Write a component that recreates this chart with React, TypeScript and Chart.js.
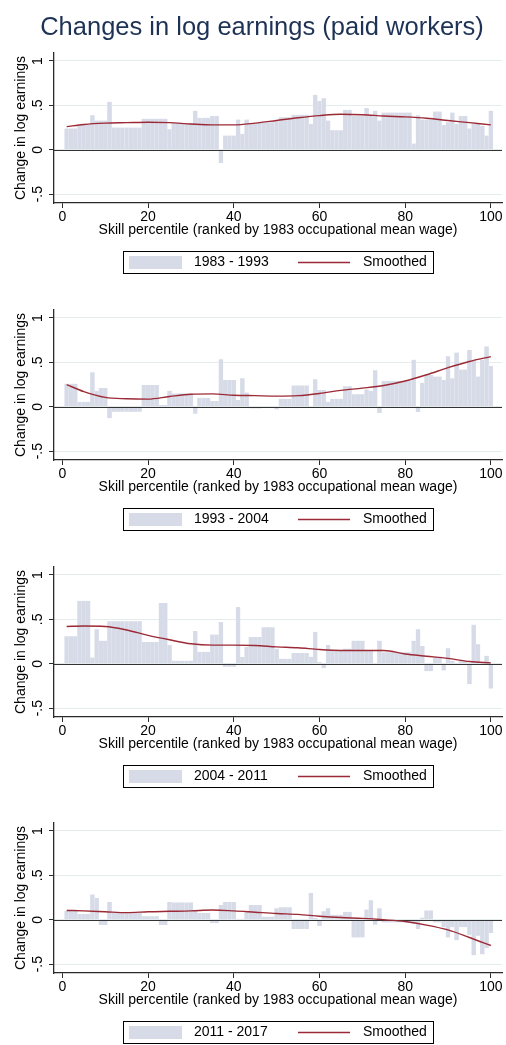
import React, { useEffect, useRef } from 'react';
import { Chart, registerables } from 'chart.js';

Chart.register(...registerables);

const FONT = '"Liberation Sans", Arimo, Arial, Helvetica, sans-serif';
Chart.defaults.font.family = FONT;

const MAIN_TITLE = 'Changes in log earnings (paid workers)';
const Y_TITLE = 'Change in log earnings';
const X_TITLE = 'Skill percentile (ranked by 1983 occupational mean wage)';
const SMOOTH_LABEL = 'Smoothed';

const percentiles = Array.from({ length: 100 }, (_, i) => i + 1);
const xTickValues = [0, 20, 40, 60, 80, 100];
const yTickValues = [-0.5, 0, 0.5, 1];
const yTickLabels = ['-.5', '0', '.5', '1'];
const periodLabels = ['1983 - 1993', '1993 - 2004', '2004 - 2011', '2011 - 2017'];

const change1983_1993 = [
  0.24, 0.24, 0.24, 0.28, 0.28, 0.28, 0.39, 0.33, 0.33, 0.33,
  0.54, 0.25, 0.25, 0.25, 0.25, 0.25, 0.25, 0.25, 0.35, 0.35,
  0.35, 0.35, 0.35, 0.35, 0.23, 0.30, 0.30, 0.30, 0.30, 0.30,
  0.44, 0.36, 0.36, 0.36, 0.38, 0.38, -0.15, 0.16, 0.16, 0.16,
  0.34, 0.18, 0.34, 0.30, 0.30, 0.30, 0.31, 0.31, 0.31, 0.32,
  0.365, 0.365, 0.365, 0.395, 0.395, 0.395, 0.395, 0.29, 0.62, 0.55,
  0.58, 0.33, 0.22, 0.22, 0.22, 0.45, 0.45, 0.38, 0.38, 0.38,
  0.47, 0.38, 0.44, 0.33, 0.42, 0.42, 0.42, 0.42, 0.42, 0.42,
  0.42, 0.07, 0.39, 0.34, 0.34, 0.34, 0.43, 0.43, 0.28, 0.31,
  0.42, 0.29, 0.38, 0.38, 0.24, 0.29, 0.29, 0.27, 0.16, 0.44,
];

const change1993_2004 = [
  0.26, 0.26, 0.26, 0.055, 0.055, 0.055, 0.39, 0.18, 0.21, 0.21,
  -0.13, -0.055, -0.055, -0.055, -0.055, -0.055, -0.055, -0.055, 0.245, 0.245,
  0.245, 0.245, 0.02, 0.02, 0.18, 0.15, 0.15, 0.15, 0.15, 0.15,
  -0.08, 0.10, 0.10, 0.10, 0.065, 0.065, 0.535, 0.30, 0.30, 0.30,
  0.075, 0.32, 0.16, -0.02, -0.02, -0.02, -0.01, -0.01, -0.01, -0.03,
  0.09, 0.09, 0.09, 0.24, 0.24, 0.24, 0.24, -0.01, 0.31, 0.19,
  0.19, 0.055, 0.09, 0.09, 0.09, 0.23, 0.23, 0.14, 0.14, 0.14,
  0.195, 0.18, 0.41, -0.07, 0.29, 0.29, 0.29, 0.29, 0.29, 0.29,
  0.29, 0.53, -0.06, 0.27, 0.36, 0.36, 0.34, 0.34, 0.30, 0.57,
  0.32, 0.61, 0.42, 0.42, 0.64, 0.53, 0.34, 0.53, 0.68, 0.46,
];

const change2004_2011 = [
  0.31, 0.31, 0.31, 0.71, 0.71, 0.71, 0.07, 0.39, 0.26, 0.26,
  0.48, 0.48, 0.48, 0.48, 0.48, 0.48, 0.48, 0.48, 0.245, 0.245,
  0.245, 0.245, 0.685, 0.685, 0.21, 0.035, 0.035, 0.035, 0.035, 0.035,
  0.37, 0.135, 0.135, 0.135, 0.33, 0.33, 0.47, -0.035, -0.035, -0.035,
  0.64, 0.075, 0.19, 0.30, 0.30, 0.30, 0.41, 0.41, 0.41, 0.17,
  0.055, 0.055, 0.055, 0.12, 0.12, 0.12, 0.12, 0.08, 0.36, 0.02,
  -0.05, 0.21, 0.155, 0.155, 0.155, 0.17, 0.17, 0.26, 0.26, 0.26,
  0.15, 0.15, -0.015, 0.26, 0.13, 0.13, 0.13, 0.13, 0.13, 0.13,
  0.13, 0.26, 0.39, 0.20, -0.085, -0.085, 0.08, 0.08, -0.075, 0.175,
  0.03, -0.015, 0.03, 0.03, -0.23, 0.44, 0.22, -0.015, 0.09, -0.28,
];

const change2011_2017 = [
  0.10, 0.10, 0.10, 0.065, 0.065, 0.065, 0.285, 0.245, -0.06, -0.06,
  0.20, 0.085, 0.085, 0.085, 0.085, 0.085, 0.085, 0.085, 0.04, 0.04,
  0.04, 0.04, -0.06, -0.06, 0.20, 0.195, 0.195, 0.195, 0.195, 0.195,
  0.11, 0.075, 0.075, 0.075, -0.04, -0.04, 0.165, 0.20, 0.20, 0.20,
  0.01, 0.01, 0.10, 0.165, 0.165, 0.165, 0.035, 0.035, 0.035, 0.13,
  0.14, 0.14, 0.14, -0.105, -0.105, -0.105, -0.105, 0.30, 0.02, -0.07,
  0.095, 0.13, 0.055, 0.055, 0.055, 0.09, 0.09, -0.20, -0.20, -0.20,
  0.115, 0.22, -0.055, 0.13, -0.03, -0.03, -0.03, -0.03, -0.03, -0.03,
  -0.03, -0.045, -0.105, 0.025, 0.105, 0.105, -0.03, -0.03, -0.085, -0.20,
  -0.085, -0.23, -0.085, -0.085, -0.17, -0.40, -0.18, -0.39, -0.32, -0.15,
];

const smoothKnots = [1, 5, 10, 15, 20, 25, 30, 35, 40, 45, 50, 55, 60, 65, 70, 75, 80, 85, 90, 95, 100];
const smooth1983_1993 = [0.26, 0.285, 0.30, 0.305, 0.31, 0.305, 0.29, 0.28, 0.28, 0.30, 0.33, 0.36, 0.385, 0.40, 0.395, 0.38, 0.37, 0.355, 0.33, 0.305, 0.28];
const smooth1993_2004 = [0.25, 0.17, 0.105, 0.09, 0.086, 0.115, 0.14, 0.145, 0.13, 0.125, 0.12, 0.125, 0.15, 0.185, 0.21, 0.24, 0.29, 0.36, 0.44, 0.51, 0.565];
const smooth2004_2011 = [0.42, 0.425, 0.42, 0.38, 0.32, 0.27, 0.225, 0.21, 0.21, 0.205, 0.19, 0.18, 0.16, 0.15, 0.15, 0.15, 0.11, 0.085, 0.06, 0.025, 0.01];
const smooth2011_2017 = [0.105, 0.10, 0.09, 0.08, 0.09, 0.095, 0.10, 0.11, 0.10, 0.085, 0.07, 0.06, 0.04, 0.025, 0.015, 0.0, -0.02, -0.06, -0.115, -0.20, -0.29];

const barSeries = [change1983_1993, change1993_2004, change2004_2011, change2011_2017];
const smoothSeries = [smooth1983_1993, smooth1993_2004, smooth2004_2011, smooth2011_2017];

const BAR_COLOR = 'rgb(214,219,231)';
const BAR_EDGE = 'rgb(232,235,242)';
const LINE_COLOR = '#9c2a36';
const AXIS_COLOR = '#2a2a2a';
const GRID_COLOR = '#e4ecee';
const TITLE_COLOR = '#1e3256';

const panelTops = [0, 257, 514, 770];
const panelHeights = [282, 282, 282, 275];
const PLOT_TOP = 53;
const PLOT_BOTTOM = 203;
const X_AXIS_H = 37;
const LEGEND_TOP = 251;

const stataDecor = {
  id: 'stataDecor',
  afterDatasetDraw(chart: any, args: any) {
    if (args.meta.type !== 'bar') return;
    const ctx = chart.ctx;
    const area = chart.chartArea;
    const y0 = chart.scales.y.getPixelForValue(0);
    ctx.save();
    ctx.strokeStyle = '#333';
    ctx.lineWidth = 1;
    ctx.beginPath();
    ctx.moveTo(area.left, Math.round(y0) + 0.5);
    ctx.lineTo(area.right, Math.round(y0) + 0.5);
    ctx.stroke();
    ctx.restore();
  },
  afterDraw(chart: any, _args: any, opts: any) {
    const ctx = chart.ctx;
    const ys = chart.scales.y;
    const area = chart.chartArea;
    ctx.save();
    ctx.fillStyle = '#000';
    ctx.font = `14px ${FONT}`;
    ctx.textAlign = 'center';
    ctx.textBaseline = 'alphabetic';
    yTickValues.forEach((v, i) => {
      const py = ys.getPixelForValue(v);
      ctx.save();
      ctx.translate(area.left - 12.3, py);
      ctx.rotate(-Math.PI / 2);
      ctx.fillText(yTickLabels[i], 0, 0);
      ctx.restore();
    });

    const cx = (area.left + area.right) / 2;
    const bw = 311;
    const bh = 23;
    const bx = Math.round(cx - bw / 2);
    const by = opts.legendTop;
    const cy = by + bh / 2;
    ctx.fillStyle = '#fff';
    ctx.fillRect(bx, by, bw, bh);
    ctx.strokeStyle = '#000';
    ctx.lineWidth = 1;
    ctx.strokeRect(bx + 0.5, by + 0.5, bw - 1, bh - 1);
    ctx.fillStyle = BAR_COLOR;
    ctx.fillRect(bx + 6, cy - 6.5, 53, 13);
    ctx.fillStyle = '#000';
    ctx.textAlign = 'left';
    ctx.textBaseline = 'middle';
    ctx.fillText(opts.label, bx + 71, cy);
    ctx.strokeStyle = LINE_COLOR;
    ctx.lineWidth = 1.3;
    ctx.beginPath();
    ctx.moveTo(bx + 175, cy);
    ctx.lineTo(bx + 227, cy);
    ctx.stroke();
    ctx.fillText(SMOOTH_LABEL, bx + 240, cy);

    if (opts.showTitle) {
      ctx.fillStyle = TITLE_COLOR;
      ctx.font = `25.5px ${FONT}`;
      ctx.textAlign = 'center';
      ctx.textBaseline = 'alphabetic';
      ctx.fillText(MAIN_TITLE, 262, 34.5);
    }
    ctx.restore();
  },
};

function Panel({ index }: { index: number }) {
  const ref = useRef<HTMLCanvasElement | null>(null);
  const h = panelHeights[index];
  useEffect(() => {
    if (!ref.current) return;
    const bars = barSeries[index];
    const smooth = smoothSeries[index];
    const chart = new Chart(ref.current, {
      type: 'bar',
      data: {
        datasets: [
          {
            type: 'line',
            label: SMOOTH_LABEL,
            data: smoothKnots.map((p, i) => ({ x: p, y: smooth[i] })),
            borderColor: LINE_COLOR,
            borderWidth: 1.4,
            pointRadius: 0,
            fill: false,
            cubicInterpolationMode: 'monotone',
            order: 0,
          } as any,
          {
            type: 'bar',
            label: periodLabels[index],
            data: percentiles.map((p, i) => ({ x: p, y: bars[i] })),
            backgroundColor: BAR_COLOR,
            borderColor: BAR_EDGE,
            borderWidth: { left: 0.4, right: 0.4, top: 0, bottom: 0 },
            borderSkipped: false,
            barPercentage: 1,
            categoryPercentage: 1,
            order: 1,
          } as any,
        ],
      },
      options: {
        responsive: false,
        animation: false,
        events: [],
        layout: { padding: { top: PLOT_TOP, bottom: h - PLOT_BOTTOM - X_AXIS_H, left: 0, right: 4 } },
        plugins: {
          legend: { display: false },
          tooltip: { enabled: false },
          title: { display: false },
          stataDecor: { label: periodLabels[index], legendTop: LEGEND_TOP, showTitle: index === 0 },
        } as any,
        scales: {
          x: {
            type: 'linear',
            min: -1.96,
            max: 102.6,
            offset: false,
            afterBuildTicks: (s: any) => {
              s.ticks = xTickValues.map((v) => ({ value: v }));
            },
            afterFit: (s: any) => {
              s.height = X_AXIS_H;
            },
            grid: {
              display: true,
              drawOnChartArea: false,
              drawTicks: true,
              tickLength: 5,
              tickColor: AXIS_COLOR,
              offset: false,
            },
            border: { display: true, color: AXIS_COLOR, width: 1.3 },
            ticks: {
              color: '#000',
              font: { size: 14 },
              padding: 1,
              autoSkip: false,
              maxRotation: 0,
              callback: (v: any) => String(v),
            },
            title: {
              display: true,
              text: X_TITLE,
              color: '#000',
              font: { size: 14 },
              padding: { top: 0, bottom: 1 },
            },
          },
          y: {
            type: 'linear',
            min: -0.6,
            max: 1.09,
            afterBuildTicks: (s: any) => {
              s.ticks = yTickValues.map((v) => ({ value: v }));
            },
            afterFit: (s: any) => {
              s.width = 54;
            },
            grid: {
              color: GRID_COLOR,
              lineWidth: 1,
              drawTicks: true,
              tickLength: 5,
              tickColor: AXIS_COLOR,
            },
            border: { display: true, color: AXIS_COLOR, width: 1.3 },
            ticks: { display: false },
            title: {
              display: true,
              text: Y_TITLE,
              color: '#000',
              font: { size: 14 },
              padding: { top: 13, bottom: 0 },
            },
          },
        } as any,
      },
      plugins: [stataDecor as any],
    });
    return () => chart.destroy();
  }, [index, h]);
  return (
    <canvas
      ref={ref}
      width={506}
      height={h}
      style={{ position: 'absolute', left: 0, top: panelTops[index], width: 506, height: h, display: 'block' }}
    />
  );
}

export default function App() {
  return (
    <div style={{ position: 'absolute', left: 0, top: 0, width: 506, height: 1045, background: '#fff', overflow: 'hidden' }}>
      {[0, 1, 2, 3].map((i) => (
        <Panel key={i} index={i} />
      ))}
    </div>
  );
}
